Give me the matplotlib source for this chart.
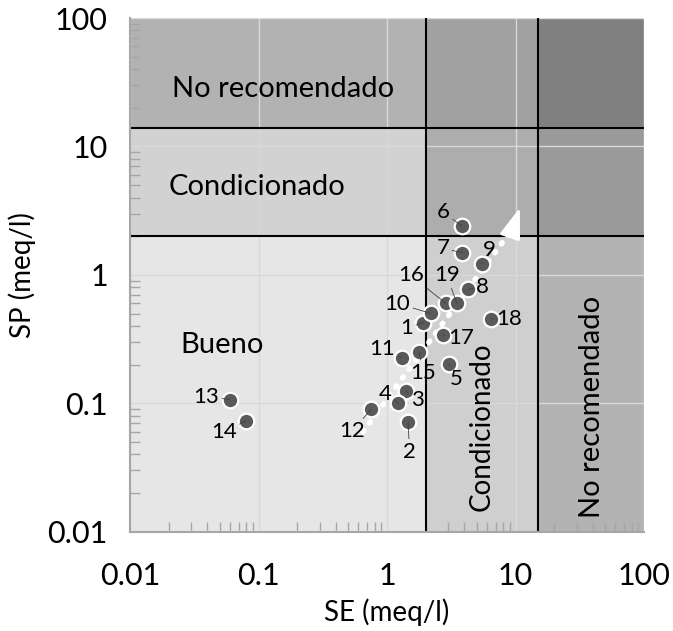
import matplotlib
matplotlib.use('Agg')
import matplotlib.pyplot as plt
from matplotlib.patches import Rectangle
from matplotlib.ticker import LogLocator, FixedLocator, FixedFormatter, NullFormatter

plt.rcParams['font.family'] = ['Lato', 'DejaVu Sans']

# ---- data ----
labels = [str(i) for i in range(1, 20)]
se = [1.92, 1.46, 1.41, 1.22, 3.04, 3.81, 3.85, 4.29, 5.49, 2.19,
      1.30, 0.755, 0.060, 0.080, 1.78, 2.86, 2.71, 6.48, 3.49]
sp = [0.425, 0.071, 0.124, 0.100, 0.202, 2.40, 1.49, 0.772, 1.22, 0.502,
      0.226, 0.090, 0.107, 0.073, 0.250, 0.601, 0.340, 0.454, 0.601]

se_bounds = [0.01, 2, 15, 100]
sp_bounds = [0.01, 2, 14, 100]
zone_colors = [  # rows: SP low->high, cols: SE low->high
    ['#e6e6e6', '#cfcfcf', '#b3b3b3'],
    ['#d2d2d2', '#adadad', '#9a9a9a'],
    ['#b2b2b2', '#a1a1a1', '#808080'],
]
trend_se = [0.65, 11.0]
trend_sp = [0.060, 3.5]

tick_values = [0.01, 0.1, 1, 10, 100]
tick_labels = ['0.01', '0.1', '1', '10', '100']

# label offsets (points) relative to each marker
label_offsets = [(-12, -4), (1, -21), (8, -6), (-9, 7), (5, -11), (-13, 10),
                 (-14, 3), (10, 2), (5, 10), (-24, 7), (-14, 6), (-14, -16),
                 (-17, 2), (-16, -8), (3, -15), (-25, 20), (13, -2), (13, 0),
                 (-7, 20)]

fig = plt.figure(figsize=(6.73, 6.31), dpi=100)
ax = fig.add_axes([130/673, 1-531.7/631, (644-130)/673, (531.7-18)/631])
ax.set_xscale('log')
ax.set_yscale('log')
ax.set_xlim(se_bounds[0], se_bounds[-1])
ax.set_ylim(sp_bounds[0], sp_bounds[-1])

for i in range(3):
    for j in range(3):
        ax.add_patch(Rectangle((se_bounds[j], sp_bounds[i]),
                               se_bounds[j+1]-se_bounds[j], sp_bounds[i+1]-sp_bounds[i],
                               facecolor=zone_colors[i][j], edgecolor='none', zorder=0.2))

ax.grid(True, which='major', color='#d9d9d9', lw=1.0, zorder=1)
for v in se_bounds[1:3]:
    ax.axvline(v, color='black', lw=1.5, zorder=2)
for v in sp_bounds[1:3]:
    ax.axhline(v, color='black', lw=1.5, zorder=2)

# zone texts
zfs = 21
ax.text(0.155, 28, 'No recomendado', fontsize=zfs, ha='center', va='center', zorder=3)
ax.text(0.097, 4.84, 'Condicionado', fontsize=zfs, ha='center', va='center', zorder=3)
ax.text(0.052, 0.284, 'Bueno', fontsize=zfs, ha='center', va='center', zorder=3)
ax.text(5.45, 0.066, 'Condicionado', fontsize=20, ha='center', va='center', rotation=90, zorder=3)
ax.text(39.4, 0.094, 'No recomendado', fontsize=zfs, ha='center', va='center', rotation=90, zorder=3)

# trend arrow
ax.plot(trend_se, [trend_sp[0], trend_sp[1]*0.8], color='white', lw=4,
        linestyle=(0, (0.25, 1.75)), dash_capstyle='round', zorder=3)
ax.annotate('', xy=(trend_se[1], trend_sp[1]), xytext=(trend_se[1]*0.85, trend_sp[1]*0.62),
            arrowprops=dict(arrowstyle='-|>,head_length=1.9,head_width=0.65', color='white', lw=2),
            zorder=3)

# points
ax.scatter(se, sp, s=125, facecolor='#5a5a5a', edgecolor='white', linewidth=1.6, zorder=5)
for lab, x, y, off in zip(labels, se, sp, label_offsets):
    ax.annotate(lab, xy=(x, y), xytext=off, textcoords='offset points',
                fontsize=16, ha='center', va='center', zorder=6,
                arrowprops=dict(arrowstyle='-', color='#404040', lw=0.6,
                                shrinkA=0, shrinkB=0))

ax.xaxis.set_major_locator(FixedLocator(tick_values))
ax.xaxis.set_major_formatter(FixedFormatter(tick_labels))
ax.yaxis.set_major_locator(FixedLocator(tick_values))
ax.yaxis.set_major_formatter(FixedFormatter(tick_labels))
ax.xaxis.set_minor_locator(LogLocator(base=10, subs=range(2, 10)))
ax.yaxis.set_minor_locator(LogLocator(base=10, subs=range(2, 10)))
ax.xaxis.set_minor_formatter(NullFormatter())
ax.yaxis.set_minor_formatter(NullFormatter())
ax.tick_params(which='major', length=0, labelsize=22, colors='black')
ax.tick_params(axis='x', which='major', pad=22)
ax.tick_params(axis='y', which='major', pad=16)
ax.tick_params(which='minor', direction='in', length=7, width=1, color='#a6a6a6')

for s in ['top', 'right']:
    ax.spines[s].set_visible(False)
for s in ['left', 'bottom']:
    ax.spines[s].set_color('#a6a6a6')
    ax.spines[s].set_linewidth(1.5)

ax.set_xlabel('SE (meq/l)', fontsize=20, labelpad=6)
ax.set_ylabel('SP (meq/l)', fontsize=20, labelpad=8)

fig.savefig('out.png', dpi=100)
